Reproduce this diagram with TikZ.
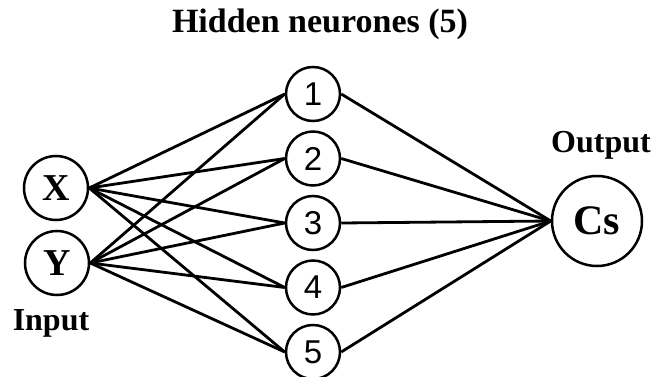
\documentclass[tikz,border=0pt]{standalone}
\usepackage{fontspec}
\setmainfont{Liberation Serif}
\newfontfamily\digitfont{Liberation Sans}
\begin{document}
\begin{tikzpicture}[x=1pt,y=-1pt,
  neuron/.style={circle,draw=black,line width=2.5pt,inner sep=0pt},
  inneuron/.style={neuron,minimum size=64pt,font=\fontsize{38}{44}\selectfont\bfseries},
  hidneuron/.style={neuron,minimum size=54pt,font=\fontsize{33}{38}\selectfont\digitfont},
  outneuron/.style={neuron,minimum size=90pt,font=\fontsize{42}{48}\selectfont\bfseries},
  lbl/.style={font=\fontsize{32}{38}\selectfont\bfseries,inner sep=0pt,anchor=base},
  link/.style={line width=2.8pt,black}]
\useasboundingbox (0,0) rectangle (664,377);
\node[inneuron] (X) at (56,188) {X};
\node[inneuron] (Y) at (57,263) {Y};
\node[hidneuron] (h1) at (313,94) {1};
\node[hidneuron] (h2) at (313,158.5) {2};
\node[hidneuron] (h3) at (313,223) {3};
\node[hidneuron] (h4) at (313,287.5) {4};
\node[hidneuron] (h5) at (313,352) {5};
\node[outneuron] (Cs) at (597,221) {Cs};
\node[lbl,font=\fontsize{34}{40}\selectfont\bfseries] (title) at (320,33) {Hidden neurones (5)};
\node[lbl] (inp) at (51,330) {Input};
\node[lbl] (outp) at (601,153) {Output};
\foreach \i in {1,...,5}{
  \draw[link] (X.east) -- (h\i.west);
  \draw[link] (Y.east) -- (h\i.west);
  \draw[link] (h\i.east) -- (Cs.west);
}
\end{tikzpicture}
\end{document}
